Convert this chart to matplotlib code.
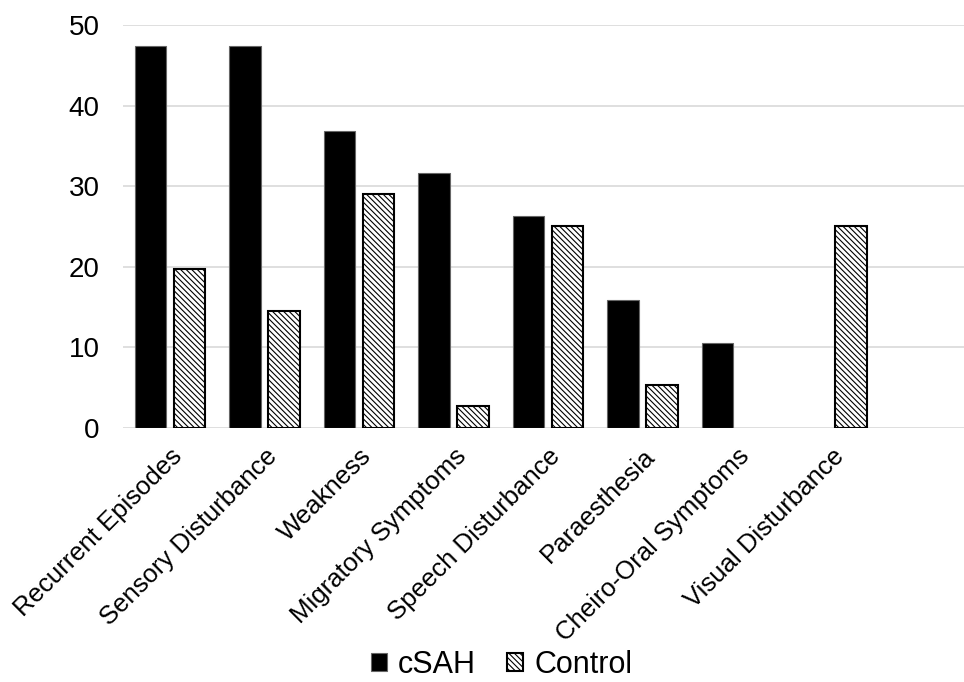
import numpy as np
import matplotlib
matplotlib.use('Agg')
import matplotlib.pyplot as plt

plt.rcParams['font.family'] = ['Liberation Sans', 'DejaVu Sans']
plt.rcParams['hatch.linewidth'] = 0.8
plt.rcParams['hatch.color'] = '#333333'

# data
categories = ['Recurrent Episodes', 'Sensory Disturbance', 'Weakness', 'Migratory Symptoms',
              'Speech Disturbance', 'Paraesthesia', 'Cheiro-Oral Symptoms', 'Visual Disturbance']
csah = [47.4, 47.4, 36.8, 31.6, 26.3, 15.8, 10.5, 0]
control = [19.7, 14.5, 29.0, 2.7, 25.0, 5.3, 0, 25.0]
yticks = [0, 10, 20, 30, 40, 50]

fig = plt.figure(figsize=(9.64, 6.82), dpi=100)
ax = fig.add_axes([0.1276, 0.3729, 0.8724, 0.5904])

x = np.arange(len(categories))
w = 0.333
# no outline on empty bars
lw_csah = [0.8 if v > 0 else 0 for v in csah]
lw_ctrl = [1.5 if v > 0 else 0 for v in control]
ax.bar(x - 0.208, csah, w, color='black', edgecolor='#666666', linewidth=lw_csah, label='cSAH', zorder=3)
ax.bar(x + 0.206, control, w, color='white', edgecolor='black', linewidth=lw_ctrl,
       hatch='\\\\\\\\\\\\', label='Control', zorder=3)

ax.set_xlim(-0.5, 8.4)
ax.set_ylim(0, 50)
ax.set_yticks(yticks)
ax.set_yticklabels([str(t) for t in yticks], fontsize=20)
ax.set_xticks(x)
ax.set_xticklabels(categories, rotation=45, ha='right', rotation_mode='anchor', fontsize=18.5)
ax.tick_params(axis='both', length=0)
ax.tick_params(axis='y', pad=17)
ax.tick_params(axis='x', pad=12)
for s in ax.spines.values():
    s.set_visible(False)
ax.yaxis.grid(True, color='#d9d9d9', linewidth=1.2, zorder=0)
ax.set_axisbelow(True)

fig.legend(loc='center', bbox_to_anchor=(0.52, 0.025), ncol=2, frameon=False, fontsize=22,
           handlelength=0.55, handleheight=0.55, handletextpad=0.35, columnspacing=1.0)

fig.savefig('out.png', dpi=100)
